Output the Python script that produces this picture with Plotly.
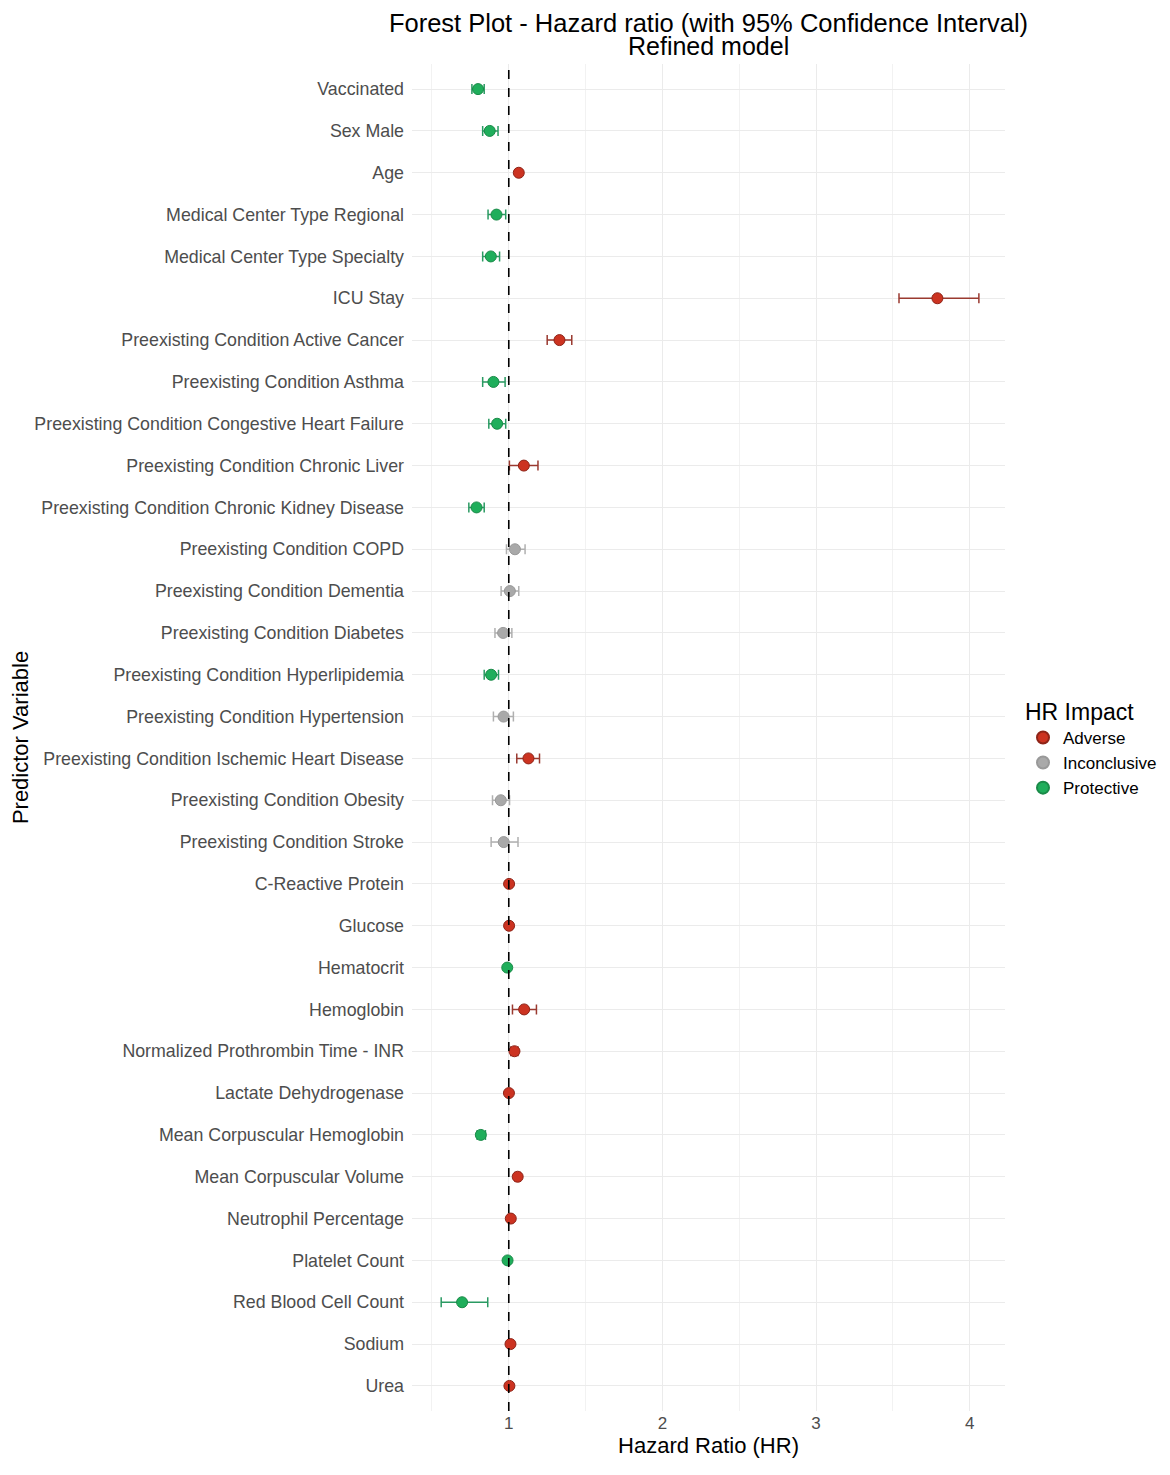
import plotly.graph_objects as go

# predictors, top to bottom
predictors = [
    "Vaccinated", "Sex Male", "Age", "Medical Center Type Regional",
    "Medical Center Type Specialty", "ICU Stay",
    "Preexisting Condition Active Cancer", "Preexisting Condition Asthma",
    "Preexisting Condition Congestive Heart Failure",
    "Preexisting Condition Chronic Liver",
    "Preexisting Condition Chronic Kidney Disease",
    "Preexisting Condition COPD", "Preexisting Condition Dementia",
    "Preexisting Condition Diabetes", "Preexisting Condition Hyperlipidemia",
    "Preexisting Condition Hypertension",
    "Preexisting Condition Ischemic Heart Disease",
    "Preexisting Condition Obesity", "Preexisting Condition Stroke",
    "C-Reactive Protein", "Glucose", "Hematocrit", "Hemoglobin",
    "Normalized Prothrombin Time - INR", "Lactate Dehydrogenase",
    "Mean Corpuscular Hemoglobin", "Mean Corpuscular Volume",
    "Neutrophil Percentage", "Platelet Count", "Red Blood Cell Count",
    "Sodium", "Urea",
]
hr = [0.80, 0.876, 1.065, 0.92, 0.883, 3.79, 1.33, 0.90, 0.924, 1.098,
      0.79, 1.04, 1.007, 0.963, 0.885, 0.966, 1.128, 0.948, 0.967,
      1.002, 1.002, 0.99, 1.10, 1.037, 1.001, 0.818, 1.058, 1.013,
      0.992, 0.696, 1.011, 1.004]
ci_low = [0.76, 0.83, 1.058, 0.865, 0.83, 3.54, 1.25, 0.83, 0.87, 1.004,
          0.74, 0.985, 0.95, 0.91, 0.84, 0.90, 1.052, 0.894, 0.885,
          0.998, 0.998, 0.986, 1.024, 1.013, 0.998, 0.794, 1.04, 1.006,
          0.988, 0.56, 1.004, 1.000]
ci_high = [0.84, 0.93, 1.072, 0.98, 0.94, 4.06, 1.41, 0.976, 0.98, 1.19,
           0.84, 1.106, 1.065, 1.02, 0.933, 1.03, 1.20, 1.005, 1.06,
           1.006, 1.006, 0.994, 1.18, 1.06, 1.004, 0.848, 1.075, 1.02,
           0.996, 0.863, 1.018, 1.008]
impact = ["Protective", "Protective", "Adverse", "Protective", "Protective",
          "Adverse", "Adverse", "Protective", "Protective", "Adverse",
          "Protective", "Inconclusive", "Inconclusive", "Inconclusive",
          "Protective", "Inconclusive", "Adverse", "Inconclusive",
          "Inconclusive", "Adverse", "Adverse", "Protective", "Adverse",
          "Adverse", "Adverse", "Protective", "Adverse", "Adverse",
          "Protective", "Protective", "Adverse", "Adverse"]

groups = ["Adverse", "Inconclusive", "Protective"]
point_colors = {"Adverse": "#cc3321", "Inconclusive": "#a9a9a9", "Protective": "#1fae5b"}
bar_colors = {"Adverse": "#9a3a30", "Inconclusive": "#b0b0b0", "Protective": "#2a9a62"}
edge_colors = {"Adverse": "#8e2418", "Inconclusive": "#999999", "Protective": "#1a8a48"}

FONT = "Liberation Sans, Arial, sans-serif"
# page body adds an 8px margin, so the figure is a bit smaller than the window
W, H = 1154, 1459
L, R, T, B = 404, 157, 56, 56
PH = H - T - B

fig = go.Figure()

for g in groups:
    idx = [i for i, v in enumerate(impact) if v == g]
    fig.add_trace(go.Scatter(
        x=[hr[i] for i in idx],
        y=[predictors[i] for i in idx],
        mode="markers",
        name=g,
        marker=dict(size=11, color=point_colors[g],
                    line=dict(color=edge_colors[g], width=1)),
        error_x=dict(type="data", symmetric=False,
                     array=[ci_high[i] - hr[i] for i in idx],
                     arrayminus=[hr[i] - ci_low[i] for i in idx],
                     color=bar_colors[g], thickness=1.5, width=5),
    ))

fig.add_vline(x=1, line=dict(color="black", width=1.6, dash="dash"))

fig.add_annotation(
    text="Refined model", xref="paper", yref="paper",
    x=0.5, y=1 + (T - 38) / PH, xanchor="center", yanchor="middle",
    showarrow=False, font=dict(size=25, color="black", family=FONT),
)

fig.update_layout(
    width=W, height=H,
    margin=dict(l=L, r=R, t=T, b=B, autoexpand=False),
    plot_bgcolor="white", paper_bgcolor="white",
    font=dict(family=FONT, color="black"),
    showlegend=True,
    title=dict(
        text="Forest Plot - Hazard ratio (with 95% Confidence Interval)",
        x=(L + (W - R)) / 2 / W, xanchor="center", yref="container",
        y=1 - 15 / H, yanchor="middle",
        font=dict(size=25.5, color="black"),
    ),
    xaxis=dict(
        title=dict(text="Hazard Ratio (HR)", font=dict(size=22), standoff=4),
        range=[0.37, 4.23],
        tickvals=[1, 2, 3, 4],
        tickfont=dict(size=17, color="#4d4d4d"),
        showgrid=True, gridcolor="#ebebeb", gridwidth=1.3,
        minor=dict(tickvals=[0.5, 1.5, 2.5, 3.5], showgrid=True,
                   gridcolor="#f2f2f2", gridwidth=0.8),
        zeroline=False, showline=False, ticks="", automargin=False,
    ),
    yaxis=dict(
        title=dict(text="Predictor Variable", font=dict(size=22), standoff=2),
        type="category",
        categoryorder="array", categoryarray=predictors,
        range=[len(predictors) - 0.4, -0.6],
        tickfont=dict(size=17.8, color="#4d4d4d"),
        showgrid=True, gridcolor="#ebebeb", gridwidth=1.3,
        zeroline=False, showline=False, ticks="",
        ticklabelstandoff=7, automargin=False,
    ),
    legend=dict(
        title=dict(text="HR Impact", font=dict(size=23)),
        x=(1015 - L) / (W - L - R), xanchor="left",
        y=(H - B - 740) / PH, yanchor="middle",
        font=dict(size=17), itemsizing="constant", tracegroupgap=0,
        bgcolor="rgba(0,0,0,0)",
    ),
)

fig.write_html("out.html")
